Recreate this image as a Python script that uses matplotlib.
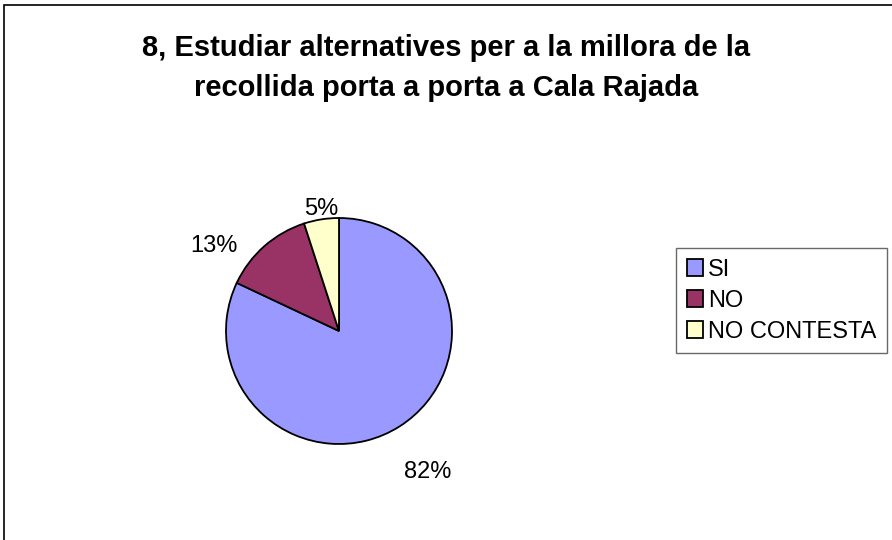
import numpy as np
import matplotlib
matplotlib.use("Agg")
import matplotlib.pyplot as plt
from matplotlib.patches import Rectangle

categories = ["SI", "NO", "NO CONTESTA"]
values = [82, 13, 5]
pct_labels = ["82%", "13%", "5%"]
title = "8, Estudiar alternatives per a la millora de la\nrecollida porta a porta a Cala Rajada"

colors = ["#9999FF", "#993366", "#FFFFCC"]
# label placement (radial distance in radii, angle offset in degrees)
lab_dist = [1.47, 1.34, 1.09]
lab_shift = [-0.2, 14.4, -0.8]

plt.rcParams["font.family"] = ["Liberation Sans", "DejaVu Sans"]

W, H = 892, 540
fig = plt.figure(figsize=(W / 100, H / 100), dpi=100)
fig.patch.set_facecolor("white")

# chart border (left and top visible)
fig.add_artist(Rectangle((4 / W, -0.1), 1.2, 1.1 - 5 / H,
                         transform=fig.transFigure, fill=False,
                         edgecolor="black", linewidth=1.2, clip_on=False))

fig.text(446 / W, 1 - 68 / H, title, ha="center", va="center",
         fontsize=21, fontweight="bold", linespacing=1.55)

cx, cy, r = 339, 331, 113
ax = fig.add_axes([(cx - r) / W, (H - cy - r) / H, 2 * r / W, 2 * r / H])
wedges, _ = ax.pie(values, colors=colors, startangle=90, counterclock=False,
                   wedgeprops=dict(edgecolor="black", linewidth=1.3),
                   radius=1.0)
ax.set_xlim(-1, 1)
ax.set_ylim(-1, 1)
ax.axis("off")

for w, lab, d, s in zip(wedges, pct_labels, lab_dist, lab_shift):
    mid = np.deg2rad((w.theta1 + w.theta2) / 2 + s)
    ax.text(d * np.cos(mid), d * np.sin(mid), lab, ha="center", va="center",
            fontsize=17, clip_on=False)

leg = fig.legend(wedges, categories, loc="upper left",
                 bbox_to_anchor=(676 / W, 1 - 248 / H),
                 fontsize=17, frameon=True, fancybox=False,
                 handlelength=0.7, handleheight=0.7, handletextpad=0.2,
                 labelspacing=0.38, borderpad=0.45, borderaxespad=0)
leg.get_frame().set_edgecolor("#444444")
leg.get_frame().set_linewidth(1.0)

fig.savefig("out.png", dpi=100)
